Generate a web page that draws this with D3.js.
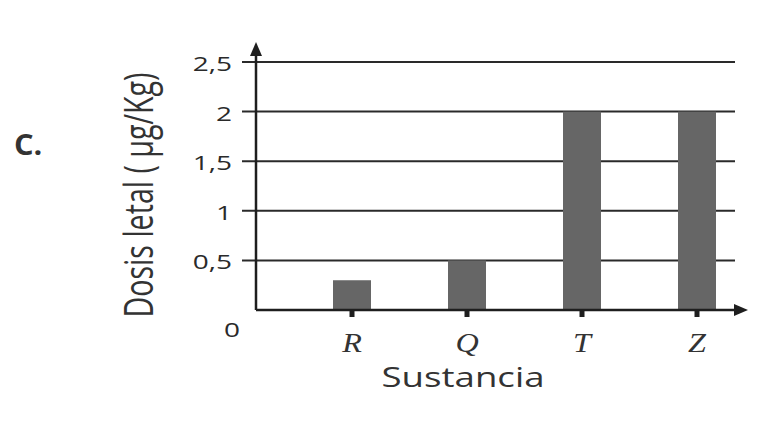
<!DOCTYPE html>
<html><head><meta charset="utf-8">
<script src="https://cdn.jsdelivr.net/npm/d3@7"></script>
<style>body{margin:0;background:#fff}svg{display:block}</style>
</head><body>
<svg id="c" width="766" height="422"></svg>
<script>
const categories = ["R","Q","T","Z"];
const values = [0.3, 0.5, 2, 2];
const yTicks = [0.5, 1, 1.5, 2, 2.5];
const yTickLabels = ["0,5","1","1,5","2","2,5"];

const svg = d3.select("#c");
const x0 = 256, xEnd = 735, y0 = 310;
const y = d3.scaleLinear().domain([0, 2.5]).range([y0, 62]);
const x = d3.scalePoint().domain(categories).range([352, 697]);
const bw = 38;
const sans = "Open Sans, sans-serif";

// gridlines
svg.append("g").selectAll("line").data(yTicks).join("line")
  .attr("x1", 242).attr("x2", xEnd).attr("y1", d => y(d)).attr("y2", d => y(d))
  .attr("stroke", "#2a2a2a").attr("stroke-width", 2);

// bars
svg.append("g").selectAll("rect").data(values).join("rect")
  .attr("x", (d,i) => x(categories[i]) - bw/2).attr("width", bw)
  .attr("y", d => y(d)).attr("height", d => y0 - y(d))
  .attr("fill", "#666666");

// axes
svg.append("line").attr("x1", x0).attr("x2", x0).attr("y1", y0).attr("y2", 50)
  .attr("stroke", "#1e1e1e").attr("stroke-width", 2.5);
svg.append("path").attr("d", `M${x0-6},${56} L${x0},${42} L${x0+6},${56} Z`).attr("fill", "#1e1e1e");
svg.append("line").attr("x1", x0).attr("x2", 738).attr("y1", y0).attr("y2", y0)
  .attr("stroke", "#1e1e1e").attr("stroke-width", 2.5);
svg.append("path").attr("d", `M${734},${y0-6} L${748},${y0} L${734},${y0+6} Z`).attr("fill", "#1e1e1e");

// x ticks
svg.append("g").selectAll("rect").data(categories).join("rect")
  .attr("x", d => x(d) - 2.5).attr("y", y0).attr("width", 5).attr("height", 7).attr("fill", "#1e1e1e");
svg.append("g").selectAll("text").data(categories).join("text")
  .attr("transform", d => `translate(${x(d)},352) scale(1.15,1)`).attr("text-anchor", "middle")
  .attr("font-family", "Liberation Serif, serif").attr("font-style", "italic")
  .attr("font-size", 28).attr("fill", "#333").text(d => d);

// y tick labels
svg.append("g").selectAll("text").data(yTicks).join("text")
  .attr("transform", d => `translate(232,${y(d) + 9}) scale(1.4,1)`).attr("text-anchor", "end")
  .attr("font-family", sans).attr("font-size", 20).attr("fill", "#2a2a2a")
  .text((d,i) => yTickLabels[i]);
svg.append("text").attr("transform", "translate(232,337) scale(1.4,1)").attr("text-anchor", "middle")
  .attr("font-family", sans).attr("font-size", 20).attr("fill", "#2a2a2a").text("0");

// axis titles
svg.append("text").attr("x", 463).attr("y", 387).attr("text-anchor", "middle")
  .attr("font-family", sans).attr("font-size", 28).attr("fill", "#333")
  .attr("textLength", 163).attr("lengthAdjust", "spacingAndGlyphs").text("Sustancia");
svg.append("text").attr("transform", "translate(153,195) scale(1.3,1) rotate(-90)").attr("text-anchor", "middle")
  .attr("font-family", sans).attr("font-size", 31).attr("fill", "#333")
  .attr("textLength", 245).attr("lengthAdjust", "spacingAndGlyphs")
  .text("Dosis letal ( µg/Kg)");
svg.append("text").attr("transform", "translate(14,155) scale(1.1,1)")
  .attr("font-family", sans).attr("font-weight", "bold").attr("font-size", 28).attr("fill", "#333").text("C.");
</script>
</body></html>
